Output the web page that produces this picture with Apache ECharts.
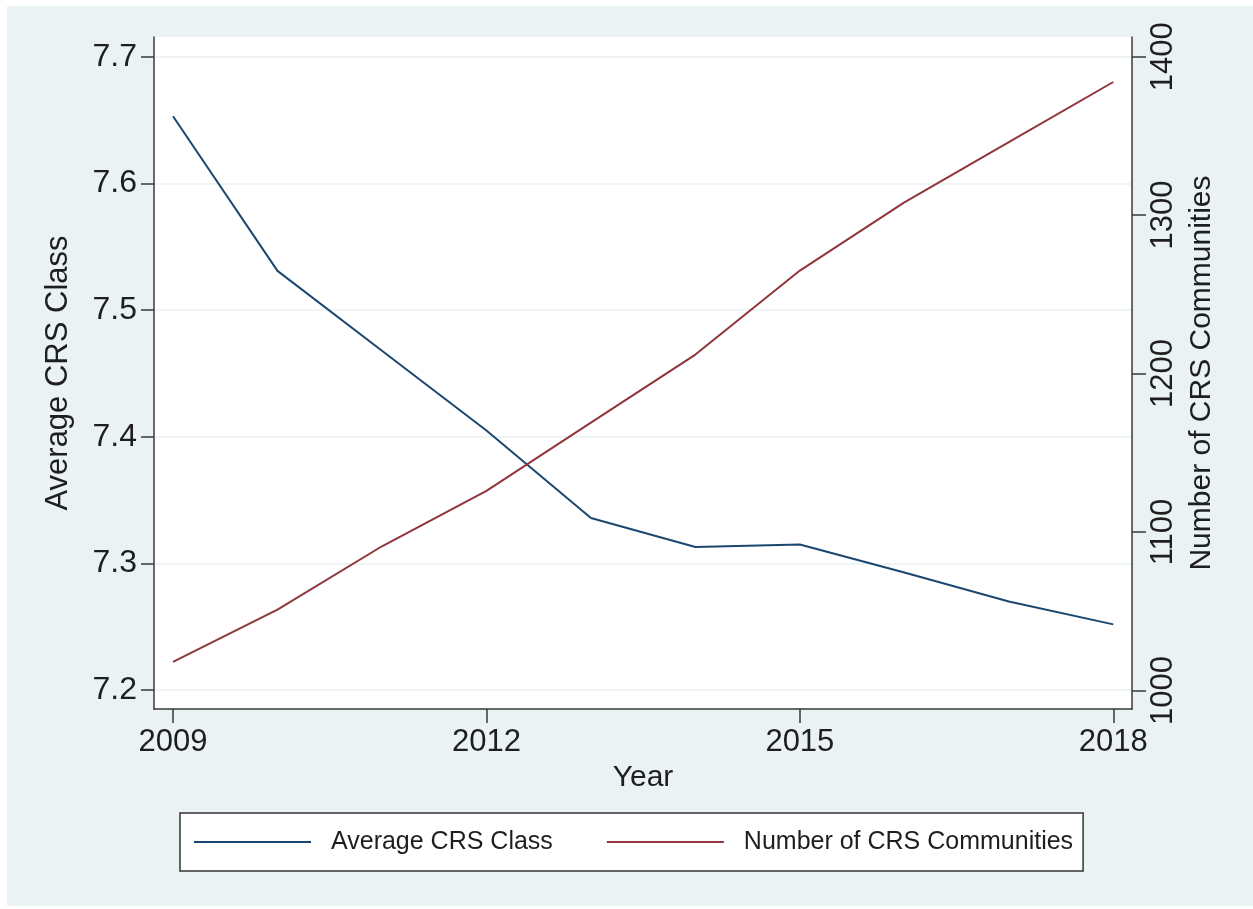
<!DOCTYPE html>
<html>
<head>
<meta charset="utf-8">
<script src="https://cdn.jsdelivr.net/npm/echarts@6/dist/echarts.min.js"></script>
<style>
  html, body { margin: 0; padding: 0; background: #ffffff; }
  #bg { position: absolute; left: 7px; top: 6px; width: 1246px; height: 900px; background: #EAF2F3; }
  #chart { position: absolute; left: 0; top: 0; width: 1253px; height: 909px; }
</style>
</head>
<body>
<div id="bg"></div>
<div id="chart"></div>
<script>
// Yearly series
const years = [2009, 2010, 2011, 2012, 2013, 2014, 2015, 2016, 2017, 2018];
const avgClass = [7.653, 7.531, 7.468, 7.405, 7.336, 7.313, 7.315, 7.293, 7.270, 7.252];
const communities = [1018, 1051, 1091, 1126, 1169, 1212, 1265, 1308, 1346, 1384];

// Tick labels
const xTicks = [2009, 2012, 2015, 2018];
const leftTicks = [7.2, 7.3, 7.4, 7.5, 7.6, 7.7];
const rightTicks = [1000, 1100, 1200, 1300, 1400];

const FONT = "'Liberation Sans', Arial, Helvetica, sans-serif";
const AXIS_COLOR = '#3a3a3a';
const TEXT_COLOR = '#1e1e1e';

const chart = echarts.init(document.getElementById('chart'), null, { renderer: 'canvas' });

chart.setOption({
  backgroundColor: 'transparent',
  animation: false,
  textStyle: { fontFamily: FONT },
  grid: {
    left: 154, right: 121, top: 37, bottom: 200,
    show: true, backgroundColor: '#ffffff', borderWidth: 0
  },
  legend: {
    left: 180, top: 813,
    padding: [15, 10, 15, 14],
    backgroundColor: '#ffffff',
    borderColor: '#333333', borderWidth: 1.5, borderRadius: 0,
    icon: 'rect',
    itemWidth: 117, itemHeight: 2, itemGap: 54,
    textStyle: { fontFamily: FONT, fontSize: 25, lineHeight: 28, color: TEXT_COLOR, padding: [0, 0, 0, 15] },
    data: ['Average CRS Class', 'Number of CRS Communities']
  },
  xAxis: {
    type: 'value',
    min: 2008.818, max: 2018.179,
    name: 'Year', nameLocation: 'middle', nameGap: 50,
    nameTextStyle: { fontFamily: FONT, fontSize: 30, color: TEXT_COLOR },
    axisLine: { show: true, onZero: false, lineStyle: { color: AXIS_COLOR, width: 1.5 } },
    axisTick: { show: true, inside: false, length: 14, customValues: xTicks, lineStyle: { color: AXIS_COLOR, width: 1.5 } },
    axisLabel: { customValues: xTicks, fontFamily: FONT, fontSize: 31, color: TEXT_COLOR, margin: 18, formatter: v => String(v) },
    splitLine: { show: false }
  },
  yAxis: [
    {
      type: 'value', position: 'left',
      min: 7.1852, max: 7.7156,
      name: 'Average CRS Class', nameLocation: 'middle', nameGap: 80, nameRotate: 90,
      nameTextStyle: { fontFamily: FONT, fontSize: 31, color: TEXT_COLOR },
      axisLine: { show: true, onZero: false, lineStyle: { color: AXIS_COLOR, width: 1.5 } },
      axisTick: { show: true, inside: false, length: 13, customValues: leftTicks, lineStyle: { color: AXIS_COLOR, width: 1.5 } },
      axisLabel: { customValues: leftTicks, fontFamily: FONT, fontSize: 32, color: TEXT_COLOR, margin: 17, formatter: v => v.toFixed(1) },
      splitLine: { show: true, lineStyle: { color: '#EAF2F3', width: 1.5 } }
    },
    {
      type: 'value', position: 'right',
      min: 988.3, max: 1412.4,
      name: 'Number of CRS Communities', nameLocation: 'middle', nameGap: 45, nameRotate: 90,
      nameTextStyle: { fontFamily: FONT, fontSize: 30, color: TEXT_COLOR },
      axisLine: { show: true, onZero: false, lineStyle: { color: AXIS_COLOR, width: 1.5 } },
      axisTick: { show: true, inside: false, length: 14, customValues: rightTicks, lineStyle: { color: AXIS_COLOR, width: 1.5 } },
      axisLabel: { customValues: rightTicks, rotate: 90, fontFamily: FONT, fontSize: 31, color: TEXT_COLOR, margin: 16, formatter: v => String(v) },
      splitLine: { show: false }
    }
  ],
  series: [
    {
      name: 'Average CRS Class', type: 'line', yAxisIndex: 0,
      symbol: 'none', showSymbol: false,
      lineStyle: { color: '#1a476f', width: 2 },
      itemStyle: { color: '#1a476f' },
      data: years.map((y, i) => [y, avgClass[i]])
    },
    {
      name: 'Number of CRS Communities', type: 'line', yAxisIndex: 1,
      symbol: 'none', showSymbol: false,
      lineStyle: { color: '#90353b', width: 2 },
      itemStyle: { color: '#90353b' },
      data: years.map((y, i) => [y, communities[i]])
    }
  ]
});
</script>
</body>
</html>
